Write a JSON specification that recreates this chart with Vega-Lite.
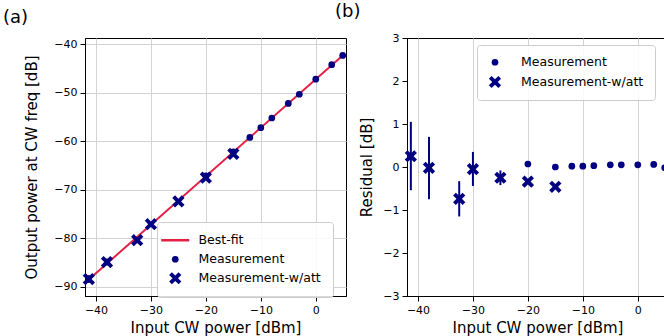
{
  "$schema": "https://vega.github.io/schema/vega-lite/v6.json",
  "padding": {"left": 2, "top": 2, "right": 0, "bottom": 0},
  "background": "white",
  "bounds": "flush",
  "spacing": 61,
  "config": {
    "font": "DejaVu Sans",
    "view": {"stroke": "black", "strokeWidth": 1},
    "axis": {
      "domainColor": "black", "tickColor": "black", "labelColor": "black", "titleColor": "black",
      "gridColor": "#d3d3d3", "gridWidth": 1, "labelFontSize": 11, "titleFontSize": 15,
      "titleFontWeight": "normal", "tickSize": 5, "labelPadding": 3
    },
    "legend": {
      "orient": "none", "labelFontSize": 12.5, "labelColor": "black", "strokeColor": "#cccccc",
      "fillColor": "rgba(255,255,255,0.85)", "cornerRadius": 3, "padding": 6,
      "rowPadding": 6, "labelOffset": 11
    },
    "title": {"fontSize": 18, "fontWeight": "normal", "anchor": "start", "color": "black"}
  },
  "datasets": {
    "fit": [
      {"x": -41.3, "y": -88.5, "series": "Best-fit"},
      {"x": 4.9, "y": -42.3, "series": "Best-fit"}
    ],
    "meas": [
      {"x": -41.3, "y": -88.4, "ylo": -89.2, "yhi": -87.6, "r": 0.25, "rlo": -0.54, "rhi": 1.05, "series": "Measurement-w/att"},
      {"x": -38.0, "y": -84.9, "ylo": -85.6, "yhi": -84.2, "r": -0.02, "rlo": -0.75, "rhi": 0.70, "series": "Measurement-w/att"},
      {"x": -32.5, "y": -80.4, "ylo": -80.8, "yhi": -80.0, "r": -0.74, "rlo": -1.15, "rhi": -0.33, "series": "Measurement-w/att"},
      {"x": -30.0, "y": -77.1, "ylo": -77.5, "yhi": -76.7, "r": -0.05, "rlo": -0.44, "rhi": 0.35, "series": "Measurement-w/att"},
      {"x": -25.0, "y": -72.4, "ylo": -72.6, "yhi": -72.2, "r": -0.25, "rlo": -0.42, "rhi": -0.08, "series": "Measurement-w/att"},
      {"x": -20.0, "y": -67.5, "ylo": -67.55, "yhi": -67.45, "r": -0.34, "rlo": -0.38, "rhi": -0.30, "series": "Measurement-w/att"},
      {"x": -15.0, "y": -62.6, "ylo": -62.65, "yhi": -62.55, "r": -0.46, "rlo": -0.49, "rhi": -0.43, "series": "Measurement-w/att"},
      {"x": -20.0, "y": -67.1, "ylo": -67.13, "yhi": -67.07, "r": 0.07, "rlo": 0.05, "rhi": 0.09, "series": "Measurement"},
      {"x": -15.0, "y": -62.2, "ylo": -62.23, "yhi": -62.17, "r": 0.0, "rlo": -0.02, "rhi": 0.02, "series": "Measurement"},
      {"x": -12.0, "y": -59.2, "ylo": -59.23, "yhi": -59.17, "r": 0.02, "rlo": 0.0, "rhi": 0.04, "series": "Measurement"},
      {"x": -10.0, "y": -57.2, "ylo": -57.23, "yhi": -57.17, "r": 0.02, "rlo": 0.0, "rhi": 0.04, "series": "Measurement"},
      {"x": -8.0, "y": -55.2, "ylo": -55.23, "yhi": -55.17, "r": 0.03, "rlo": 0.01, "rhi": 0.05, "series": "Measurement"},
      {"x": -5.0, "y": -52.2, "ylo": -52.23, "yhi": -52.17, "r": 0.05, "rlo": 0.03, "rhi": 0.07, "series": "Measurement"},
      {"x": -3.0, "y": -50.3, "ylo": -50.33, "yhi": -50.27, "r": 0.05, "rlo": 0.03, "rhi": 0.07, "series": "Measurement"},
      {"x": 0.0, "y": -47.2, "ylo": -47.23, "yhi": -47.17, "r": 0.05, "rlo": 0.03, "rhi": 0.07, "series": "Measurement"},
      {"x": 2.9, "y": -44.2, "ylo": -44.23, "yhi": -44.17, "r": 0.06, "rlo": 0.04, "rhi": 0.08, "series": "Measurement"},
      {"x": 4.9, "y": -42.3, "ylo": -42.33, "yhi": -42.27, "r": -0.02, "rlo": -0.04, "rhi": 0.0, "series": "Measurement"}
    ]
  },
  "hconcat": [
    {
      "width": 261, "height": 258,
      "title": {"text": "(a)", "frame": "group", "dx": -82, "offset": 11},
      "layer": [
        {
          "data": {"name": "fit"},
          "mark": {"type": "line", "strokeWidth": 2, "clip": true},
          "encoding": {
            "x": {"field": "x", "type": "quantitative", "scale": {"domain": [-42, 5.5], "nice": false, "zero": false},
                  "axis": {"values": [-40, -30, -20, -10, 0], "title": "Input CW power [dBm]", "titlePadding": 5}},
            "y": {"field": "y", "type": "quantitative", "scale": {"domain": [-91.9, -38.7], "nice": false, "zero": false},
                  "axis": {"values": [-90, -80, -70, -60, -50, -40], "title": "Output power at CW freq [dB]", "titlePadding": 14}},
            "color": {"field": "series", "type": "nominal",
                      "scale": {"domain": ["Best-fit", "Measurement", "Measurement-w/att"], "range": ["#e41f45", "#000080", "#000080"]},
                      "legend": {"title": null, "legendX": 72, "legendY": 184, "padding": 12, "labelOffset": 17,
                        "values": ["Best-fit", "Measurement", "Measurement-w/att"],
                        "encode": {"symbols": {"update": {
                          "stroke": {"signal": "datum.value === 'Best-fit' ? '#e41f45' : '#000080'"},
                          "strokeWidth": {"signal": "datum.value === 'Best-fit' ? 2.5 : 0"},
                          "strokeOpacity": {"value": 1},
                          "size": {"signal": "datum.value === 'Best-fit' ? 784 : datum.value === 'Measurement' ? 45 : 150"}
                        }}}}}
          }
        },
        {
          "data": {"name": "meas"},
          "mark": {"type": "rule", "strokeWidth": 2, "color": "#000080"},
          "encoding": {
            "x": {"field": "x", "type": "quantitative"},
            "y": {"field": "ylo", "type": "quantitative"},
            "y2": {"field": "yhi"}
          }
        },
        {
          "data": {"name": "meas"},
          "mark": {"type": "point", "filled": true, "opacity": 1},
          "encoding": {
            "x": {"field": "x", "type": "quantitative"},
            "y": {"field": "y", "type": "quantitative"},
            "size": {"field": "series", "type": "nominal",
                     "scale": {"type": "ordinal", "domain": ["Best-fit", "Measurement", "Measurement-w/att"], "range": [784, 45, 150]}, "legend": null},
            "color": {"field": "series", "type": "nominal",
                      "legend": {"title": null, "legendX": 72, "legendY": 184, "padding": 12, "labelOffset": 17,
                        "values": ["Best-fit", "Measurement", "Measurement-w/att"],
                        "encode": {"symbols": {"update": {
                          "stroke": {"signal": "datum.value === 'Best-fit' ? '#e41f45' : '#000080'"},
                          "strokeWidth": {"signal": "datum.value === 'Best-fit' ? 2.5 : 0"},
                          "strokeOpacity": {"value": 1},
                          "size": {"signal": "datum.value === 'Best-fit' ? 784 : datum.value === 'Measurement' ? 45 : 150"}
                        }}}}},
            "shape": {"field": "series", "type": "nominal",
                      "scale": {"domain": ["Best-fit", "Measurement", "Measurement-w/att"],
                                "range": ["stroke", "circle", "M-1,-0.55 L-0.55,-1 L0,-0.45 L0.55,-1 L1,-0.55 L0.45,0 L1,0.55 L0.55,1 L0,0.45 L-0.55,1 L-1,0.55 L-0.45,0 Z"]},
                      "legend": {"title": null, "legendX": 72, "legendY": 184, "padding": 12, "labelOffset": 17,
                        "values": ["Best-fit", "Measurement", "Measurement-w/att"],
                        "encode": {"symbols": {"update": {
                          "stroke": {"signal": "datum.value === 'Best-fit' ? '#e41f45' : '#000080'"},
                          "strokeWidth": {"signal": "datum.value === 'Best-fit' ? 2.5 : 0"},
                          "strokeOpacity": {"value": 1},
                          "size": {"signal": "datum.value === 'Best-fit' ? 784 : datum.value === 'Measurement' ? 45 : 150"}
                        }}}}}
          }
        }
      ]
    },
    {
      "width": 261, "height": 258,
      "title": {"text": "(b)", "frame": "group", "dx": -72, "offset": 11},
      "layer": [
        {
          "mark": {"type": "rule", "strokeDash": [7, 3], "strokeWidth": 2, "color": "#a0a0a0"},
          "encoding": {"y": {"datum": 0, "type": "quantitative"}}
        },
        {
          "data": {"name": "meas"},
          "mark": {"type": "rule", "strokeWidth": 2, "color": "#000080"},
          "encoding": {
            "x": {"field": "x", "type": "quantitative"},
            "y": {"field": "rlo", "type": "quantitative"},
            "y2": {"field": "rhi"}
          }
        },
        {
          "data": {"name": "meas"},
          "mark": {"type": "point", "filled": true, "opacity": 1},
          "encoding": {
            "x": {"field": "x", "type": "quantitative", "scale": {"domain": [-42, 5.5], "nice": false, "zero": false},
                  "axis": {"values": [-40, -30, -20, -10, 0], "title": "Input CW power [dBm]", "titlePadding": 5}},
            "y": {"field": "r", "type": "quantitative", "scale": {"domain": [-3, 3], "nice": false},
                  "axis": {"values": [-3, -2, -1, 0, 1, 2, 3], "title": "Residual [dB]", "titlePadding": 8}},
            "size": {"field": "series", "type": "nominal",
                     "scale": {"type": "ordinal", "domain": ["Measurement", "Measurement-w/att"], "range": [45, 150]}, "legend": null},
            "color": {"field": "series", "type": "nominal",
                      "scale": {"domain": ["Measurement", "Measurement-w/att"], "range": ["#000080", "#000080"]},
                      "legend": {"title": null, "legendX": 70, "legendY": 7, "padding": 11, "labelOffset": 19,
                        "encode": {"symbols": {"update": {
                          "size": {"signal": "datum.value === 'Measurement' ? 45 : 150"}
                        }}}}},
            "shape": {"field": "series", "type": "nominal",
                      "scale": {"domain": ["Measurement", "Measurement-w/att"],
                                "range": ["circle", "M-1,-0.55 L-0.55,-1 L0,-0.45 L0.55,-1 L1,-0.55 L0.45,0 L1,0.55 L0.55,1 L0,0.45 L-0.55,1 L-1,0.55 L-0.45,0 Z"]},
                      "legend": {"title": null, "legendX": 70, "legendY": 7, "padding": 11, "labelOffset": 19,
                        "encode": {"symbols": {"update": {
                          "size": {"signal": "datum.value === 'Measurement' ? 45 : 150"}
                        }}}}}
          }
        }
      ]
    }
  ],
  "resolve": {
    "scale": {"color": "independent", "shape": "independent", "size": "independent", "x": "independent", "y": "independent"},
    "legend": {"color": "independent", "shape": "independent"}
  }
}
